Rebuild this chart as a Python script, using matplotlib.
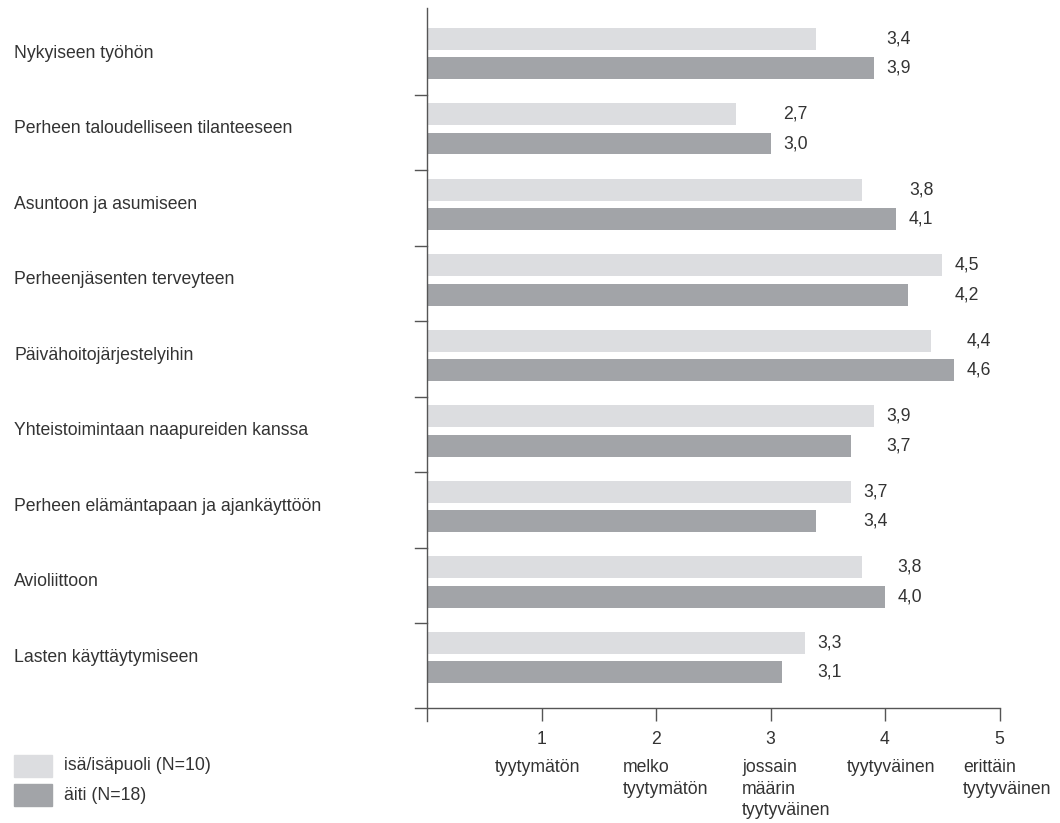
import numpy as np
import matplotlib
matplotlib.use("Agg")
import matplotlib.pyplot as plt
from matplotlib.transforms import blended_transform_factory
from matplotlib.patches import Rectangle

plt.rcParams['font.family'] = ['Liberation Sans', 'DejaVu Sans']

categories = [
    "Nykyiseen työhön",
    "Perheen taloudelliseen tilanteeseen",
    "Asuntoon ja asumiseen",
    "Perheenjäsenten terveyteen",
    "Päivähoitojärjestelyihin",
    "Yhteistoimintaan naapureiden kanssa",
    "Perheen elämäntapaan ja ajankäyttöön",
    "Avioliittoon",
    "Lasten käyttäytymiseen",
]
isa = [3.4, 2.7, 3.8, 4.5, 4.4, 3.9, 3.7, 3.8, 3.3]
aiti = [3.9, 3.0, 4.1, 4.2, 4.6, 3.7, 3.4, 4.0, 3.1]
series_labels = ["isä/isäpuoli (N=10)", "äiti (N=18)"]
scale_ticks = [1, 2, 3, 4, 5]
scale_labels = ["tyytymätön", "melko\ntyytymätön", "jossain\nmäärin\ntyytyväinen",
                "tyytyväinen", "erittäin\ntyytyväinen"]

LIGHT = "#dcdde0"
DARK = "#a2a4a8"
TEXT = "#333333"
AXIS = "#555555"
FS = 12.7

fig = plt.figure(figsize=(10.6, 8.23), dpi=100)
ax = fig.add_axes([427 / 1060, 115 / 823, 572.5 / 1060, 700 / 823])
ax.set_xlim(0, 5)
ax.set_ylim(8.67, -0.60)
for s in ax.spines.values():
    s.set_visible(False)

y = np.arange(len(categories))
h = 0.29
off = 0.195
ax.barh(y - off, isa, height=h, color=LIGHT, label=series_labels[0])
ax.barh(y + off, aiti, height=h, color=DARK, label=series_labels[1])

# value labels, both aligned after the longer bar of each group
for i in range(len(categories)):
    xl = max(isa[i], aiti[i]) + 0.11
    ax.text(xl, y[i] - off, f"{isa[i]:.1f}".replace(".", ","), va="center",
            ha="left", fontsize=FS, color=TEXT)
    ax.text(xl, y[i] + off, f"{aiti[i]:.1f}".replace(".", ","), va="center",
            ha="left", fontsize=FS, color=TEXT)

# axes lines drawn by hand so they cross at the origin
ax.plot([-0.105, 5], [8.67, 8.67], color=AXIS, lw=1, clip_on=False)
ax.plot([0, 0], [-0.60, 8.84], color=AXIS, lw=1, clip_on=False)
for i in range(len(categories) - 1):
    ax.plot([-0.105, 0], [i + 0.55, i + 0.55], color=AXIS, lw=1, clip_on=False)

ax.set_yticks([])
ax.set_xticks(scale_ticks)
ax.set_xticklabels([str(t) for t in scale_ticks], fontsize=FS, color=TEXT)
ax.tick_params(axis="x", direction="out", length=9.5, width=1, color=AXIS, pad=7)

label_x = [0.594, 1.712, 2.751, 3.668, 4.681]
for lx, txt in zip(label_x, scale_labels):
    ax.text(lx, 9.34, txt, ha="left", va="top", fontsize=FS, color=TEXT,
            linespacing=1.38, clip_on=False)

trans = blended_transform_factory(fig.transFigure, ax.transData)
for i, cat in enumerate(categories):
    ax.text(14 / 1060, y[i], cat, transform=trans, ha="left", va="center",
            fontsize=FS, color=TEXT)

# legend
for k, (lab, col) in enumerate(zip(series_labels, [LIGHT, DARK])):
    top = 755 + k * 29
    fig.patches.append(Rectangle((14 / 1060, 1 - (top + 22) / 823), 38 / 1060, 22 / 823,
                                 transform=fig.transFigure, color=col))
    fig.text(64 / 1060, 1 - (top + 11) / 823, lab, ha="left", va="center",
             fontsize=FS, color=TEXT)

fig.savefig("out.png", dpi=100, facecolor="white")
